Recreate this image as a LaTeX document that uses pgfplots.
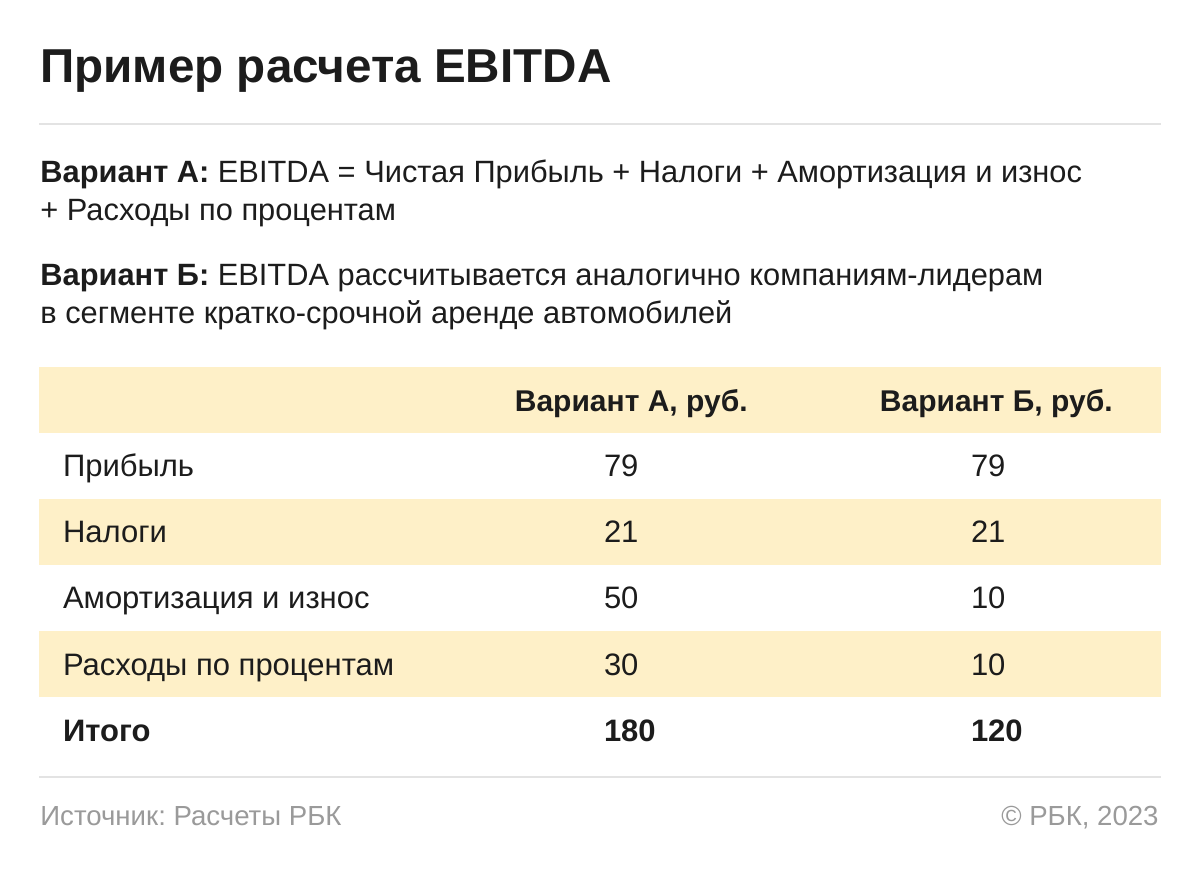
\documentclass[border=0pt]{standalone}
\usepackage{fontspec}
\setmainfont{Liberation Sans}
\usepackage{pgfplots}
\usepackage{pgfplotstable}
\pgfplotsset{compat=1.18}
\definecolor{band}{HTML}{FEF0C8}
\definecolor{ink}{HTML}{1C1C1C}
\definecolor{rulec}{HTML}{E3E3E3}
\definecolor{foot}{HTML}{9A9A9A}
\newcommand\fs[1]{\fontsize{#1}{#1}\selectfont}
\frenchspacing

\pgfplotstableread{
label a b
Прибыль 79 79
Налоги 21 21
{Амортизация и износ} 50 10
{Расходы по процентам} 30 10
}\rows
\pgfplotstableread{
label a b
Итого 180 120
}\totals

\begin{document}
\frenchspacing
\begin{tikzpicture}
\begin{axis}[
  width=600pt, height=435.5pt, scale only axis,
  xmin=0, xmax=1200, ymin=0, ymax=871, y dir=reverse,
  hide axis, clip=false,
  nodes near coords style={anchor=base west, inner sep=0pt, outer sep=0pt, text=ink, font=\fs{15.5}},
]
% background and bands
\fill[white] (axis cs:0,0) rectangle (axis cs:1200,871);
\fill[band] (axis cs:39,367) rectangle (axis cs:1161,433);
\fill[band] (axis cs:39,499) rectangle (axis cs:1161,565);
\fill[band] (axis cs:39,631) rectangle (axis cs:1161,697);
\draw[rulec, line width=1pt] (axis cs:39,124) -- (axis cs:1161,124);
\draw[rulec, line width=1pt] (axis cs:39,777) -- (axis cs:1161,777);

% title and notes
\node[anchor=base west, inner sep=0pt, text=ink, font=\fs{23.8}\bfseries] at (axis cs:40,83) {Пример расчета EBITDA};
\node[anchor=base west, inner sep=0pt, text=ink, font=\fs{15.4}] at (axis cs:40,183) {\textbf{Вариант А:} EBITDA = Чистая Прибыль + Налоги + Амортизация и износ};
\node[anchor=base west, inner sep=0pt, text=ink, font=\fs{15.4}] at (axis cs:40,221) {+ Расходы по процентам};
\node[anchor=base west, inner sep=0pt, text=ink, font=\fs{15.4}] at (axis cs:40,286) {\textbf{Вариант Б:} EBITDA рассчитывается аналогично компаниям-лидерам};
\node[anchor=base west, inner sep=0pt, text=ink, font=\fs{15.4}] at (axis cs:40,324) {в сегменте кратко-срочной аренде автомобилей};

% header
\node[anchor=base east, inner sep=0pt, text=ink, font=\fs{15.0}\bfseries] at (axis cs:748,412) {Вариант А, руб.};
\node[anchor=base east, inner sep=0pt, text=ink, font=\fs{15.0}\bfseries] at (axis cs:1113,412) {Вариант Б, руб.};

% table rows
\addplot[draw=none, mark=none, nodes near coords, point meta=explicit symbolic]
  table[x expr=63, y expr=477+66*\coordindex, meta=label] {\rows};
\addplot[draw=none, mark=none, nodes near coords, point meta=explicit symbolic]
  table[x expr=604, y expr=477+66*\coordindex, meta=a] {\rows};
\addplot[draw=none, mark=none, nodes near coords, point meta=explicit symbolic]
  table[x expr=971, y expr=477+66*\coordindex, meta=b] {\rows};
\addplot[draw=none, mark=none, nodes near coords, point meta=explicit symbolic,
  nodes near coords style={font=\fs{15.5}\bfseries}]
  table[x expr=63, y expr=741, meta=label] {\totals};
\addplot[draw=none, mark=none, nodes near coords, point meta=explicit symbolic,
  nodes near coords style={font=\fs{15.5}\bfseries}]
  table[x expr=604, y expr=741, meta=a] {\totals};
\addplot[draw=none, mark=none, nodes near coords, point meta=explicit symbolic,
  nodes near coords style={font=\fs{15.5}\bfseries}]
  table[x expr=971, y expr=741, meta=b] {\totals};

% footer
\node[anchor=base west, inner sep=0pt, text=foot, font=\fs{13.8}] at (axis cs:40,825) {Источник: Расчеты РБК};
\node[anchor=base east, inner sep=0pt, text=foot, font=\fs{13.8}] at (axis cs:1159,825) {© РБК, 2023};
\end{axis}
\end{tikzpicture}
\end{document}
